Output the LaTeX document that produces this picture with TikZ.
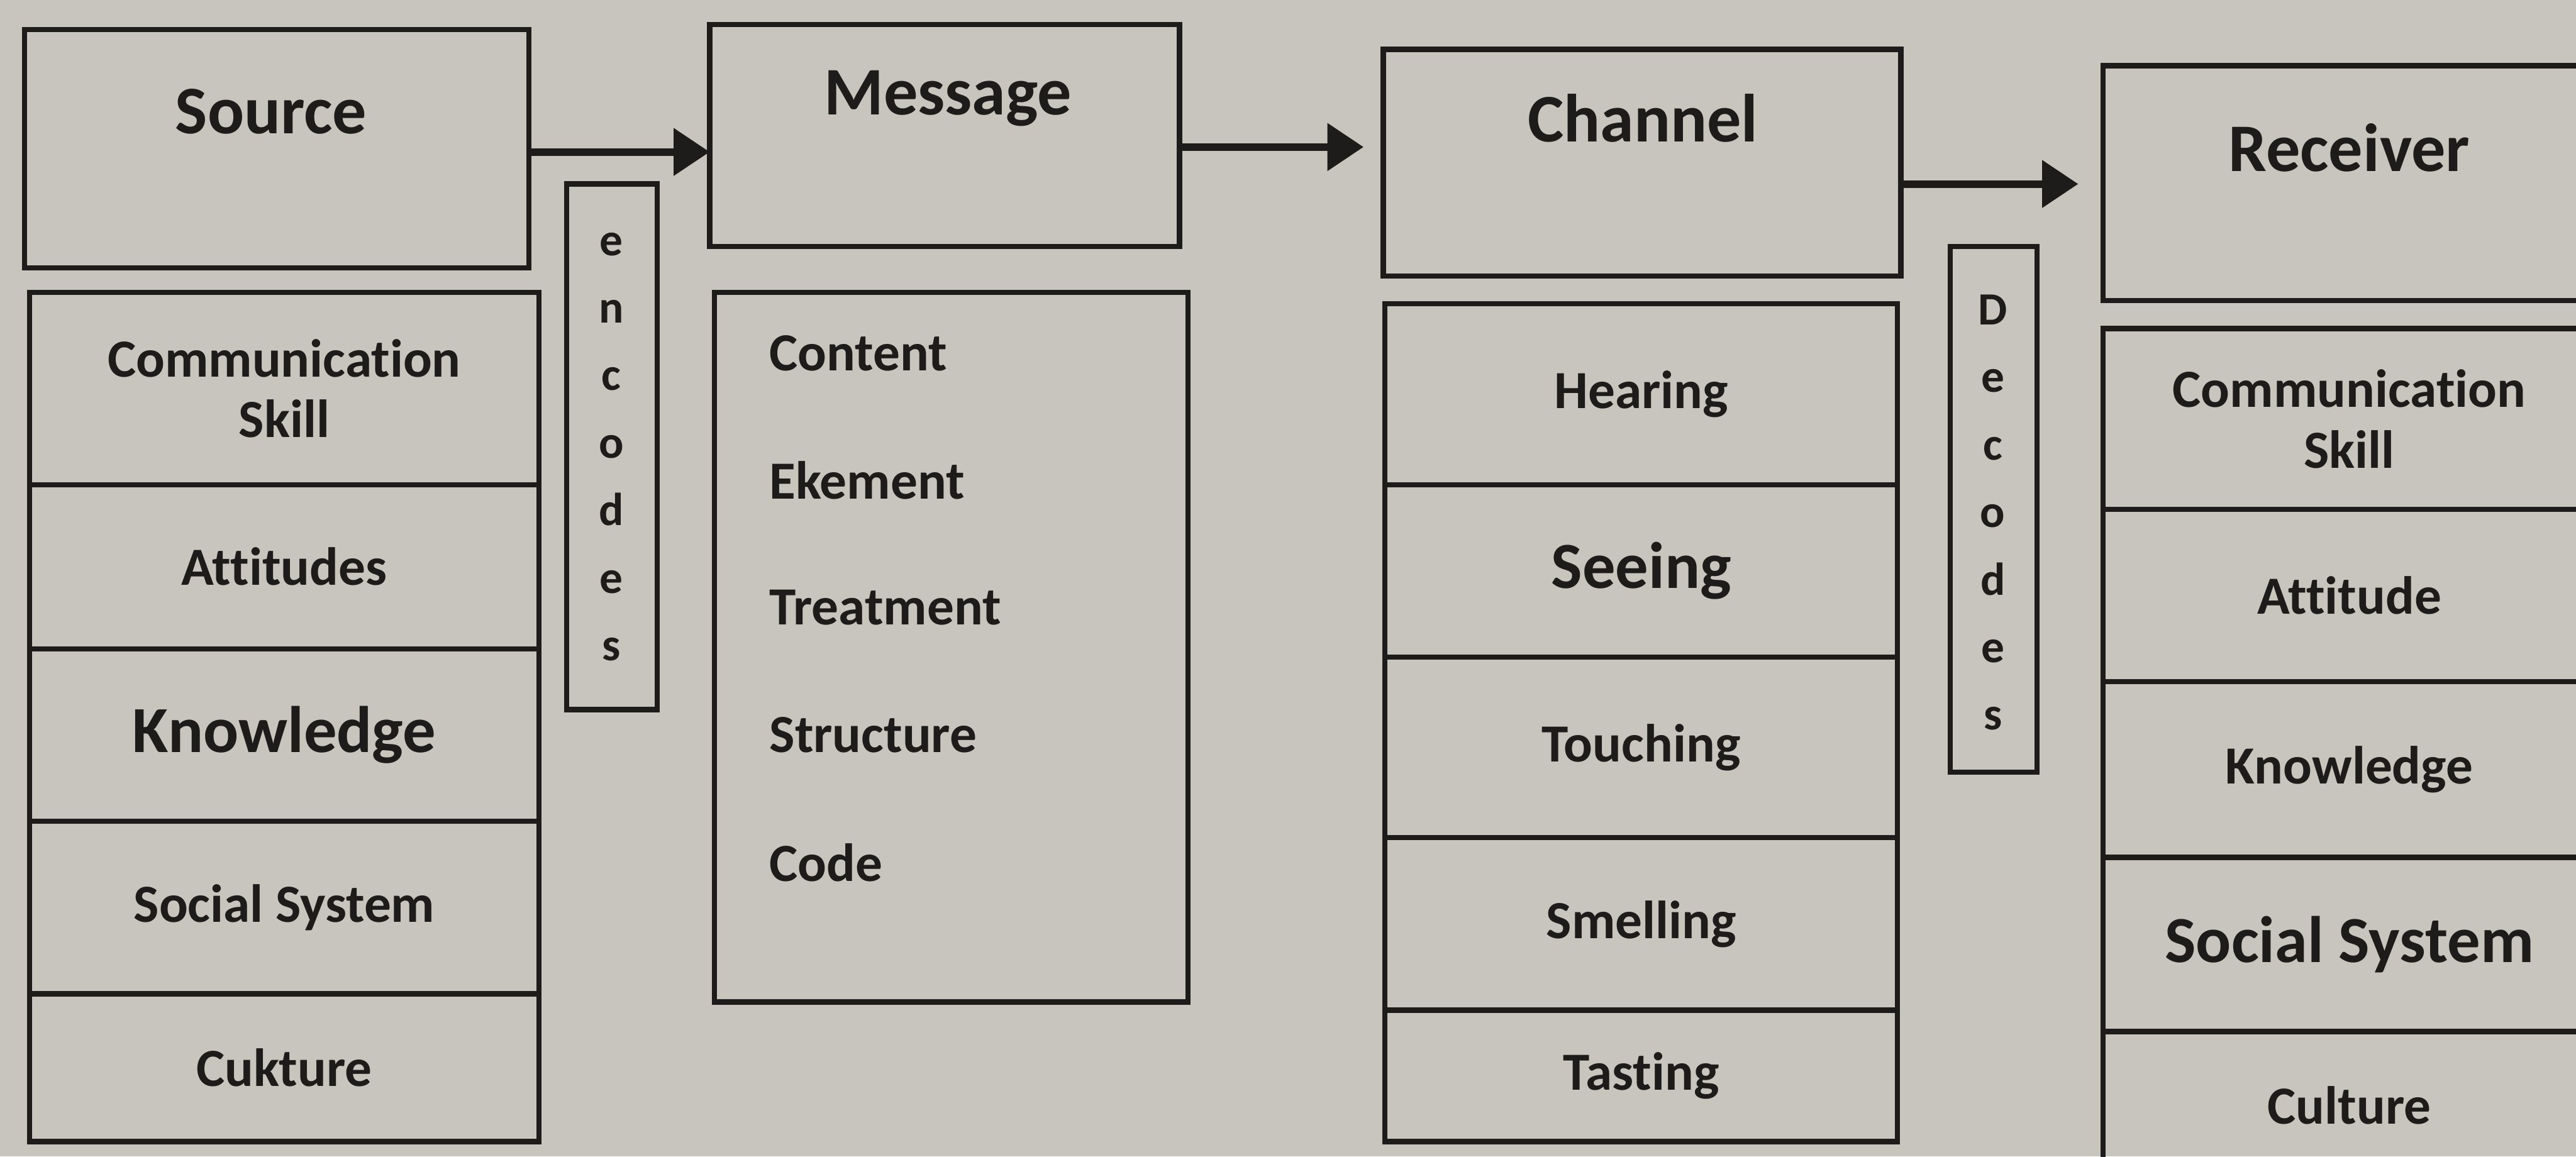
\documentclass[tikz,border=0pt]{standalone}
\usepackage{fontspec}
\setmainfont[Ligatures=NoCommon]{Carlito}
\usetikzlibrary{arrows.meta,positioning}
\definecolor{paper}{RGB}{200,196,190}
\definecolor{ink}{RGB}{30,28,26}
\tikzset{
  box/.style={draw=ink, line width=0.9pt, anchor=north west, inner sep=0pt, outer sep=0pt},
  small/.style={text=ink, font=\bfseries\fontsize{9.3}{10.5}\selectfont, align=center},
  big/.style={text=ink, font=\bfseries\fontsize{11.4}{13}\selectfont, align=center},
  head/.style={text=ink, font=\bfseries\fontsize{11.8}{13}\selectfont},
  letters/.style={text=ink, font=\bfseries\fontsize{8}{11.7}\selectfont, align=center},
  flow/.style={draw=ink, line width=1.3pt, -{Triangle[length=0.22cm,width=0.28cm]}},
}
\begin{document}
\begin{tikzpicture}
\fill[paper] (0,0) rectangle (15.68,-7.04);
\useasboundingbox (0,0) rectangle (15.68,-7.04);

% source
\node[box, minimum width=3.07cm, minimum height=1.45cm] (src) at (0.15,-0.18) {};
\node[head] (srct) at (1.65,-0.68) {Source};
\node[box, small, minimum width=3.10cm, minimum height=1.17cm] (src1) at (0.18,-1.78) {Communication\\Skill};
\node[box, small, anchor=north, minimum width=3.10cm, minimum height=1.00cm, below=0pt of src1] (src2) {Attitudes};
\node[box, big, anchor=north, minimum width=3.10cm, minimum height=1.05cm, below=0pt of src2] (src3) {Knowledge};
\node[box, small, anchor=north, minimum width=3.10cm, minimum height=1.05cm, below=0pt of src3] (src4) {Social System};
\node[box, small, anchor=north, minimum width=3.10cm, minimum height=0.90cm, below=0pt of src4] (src5) {Cukture};

% encodes
\node[box, minimum width=0.55cm, minimum height=3.20cm] (enc) at (3.45,-1.12) {};
\node[letters] (enct) at (3.72,-2.72) {e\\n\\c\\o\\d\\e\\s};

% message
\node[box, minimum width=2.86cm, minimum height=1.35cm] (msg) at (4.32,-0.15) {};
\node[head] (msgt) at (5.77,-0.60) {Message};
\node[box, minimum width=2.88cm, minimum height=4.32cm] (cont) at (4.35,-1.78) {};
\foreach \t [count=\i] in {Content,Ekement,Treatment,Structure,Code}
  \node[small, anchor=west] (item\i) at (4.56,{-2.15-0.775*(\i-1)}) {\t};

% channel
\node[box, minimum width=3.15cm, minimum height=1.38cm] (chn) at (8.42,-0.30) {};
\node[head] (chnt) at (10.00,-0.72) {Channel};
\node[box, small, minimum width=3.12cm, minimum height=1.10cm] (chn1) at (8.43,-1.85) {Hearing};
\node[box, big, anchor=north, minimum width=3.12cm, minimum height=1.05cm, below=0pt of chn1] (chn2) {Seeing};
\node[box, small, anchor=north, minimum width=3.12cm, minimum height=1.10cm, below=0pt of chn2] (chn3) {Touching};
\node[box, small, anchor=north, minimum width=3.12cm, minimum height=1.05cm, below=0pt of chn3] (chn4) {Smelling};
\node[box, small, anchor=north, minimum width=3.12cm, minimum height=0.80cm, below=0pt of chn4] (chn5) {Tasting};

% decodes
\node[box, minimum width=0.53cm, minimum height=3.20cm] (dec) at (11.87,-1.50) {};
\node[letters] (dect) at (12.13,-3.12) {D\\e\\c\\o\\d\\e\\s};

% receiver
\node[box, minimum width=3.00cm, minimum height=1.43cm] (rcv) at (12.80,-0.40) {};
\node[head] (rcvt) at (14.30,-0.90) {Receiver};
\node[box, small, minimum width=3.00cm, minimum height=1.10cm] (rcv1) at (12.80,-2.00) {Communication\\Skill};
\node[box, small, anchor=north, minimum width=3.00cm, minimum height=1.05cm, below=0pt of rcv1] (rcv2) {Attitude};
\node[box, small, anchor=north, minimum width=3.00cm, minimum height=1.07cm, below=0pt of rcv2] (rcv3) {Knowledge};
\node[box, big, anchor=north, minimum width=3.00cm, minimum height=1.06cm, below=0pt of rcv3] (rcv4) {Social System};
\node[box, small, anchor=north, minimum width=3.00cm, minimum height=0.90cm, below=0pt of rcv4] (rcv5) {Culture};

% arrows
\draw[flow] ([yshift=-0.02cm]src.east) -- ([yshift=-0.02cm]src.east -| msg.west);
\draw[flow] ([yshift=-0.07cm]msg.east) -- ([yshift=-0.07cm, xshift=-0.12cm]msg.east -| chn.west);
\draw[flow] ([yshift=-0.13cm]chn.east) -- ([yshift=-0.13cm, xshift=-0.15cm]chn.east -| rcv.west);
\end{tikzpicture}
\end{document}
